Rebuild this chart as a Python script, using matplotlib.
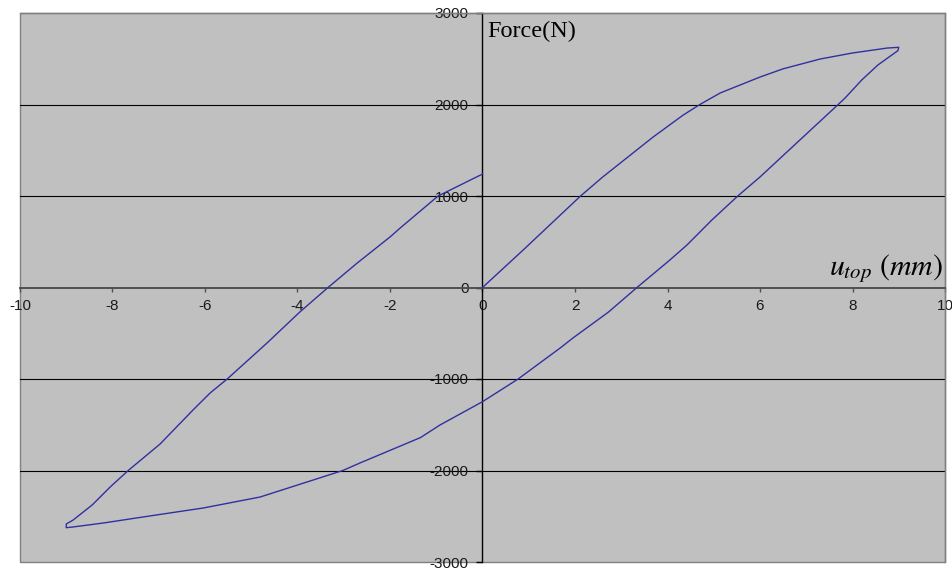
import matplotlib
matplotlib.use("Agg")
import matplotlib.pyplot as plt
from matplotlib.patches import Rectangle
import numpy as np

# Hysteresis loop: top displacement (mm) vs force (N)
loading_x = [0.0, 0.88, 2.12, 2.60, 3.69, 4.34, 4.70, 5.14, 6.00, 6.50, 7.30, 8.00, 8.75, 9.00]
loading_y = [0, 410, 1000, 1208, 1645, 1885, 2000, 2126, 2300, 2390, 2497, 2563, 2617, 2625]

unloading_x = [8.98, 8.55, 8.20, 7.84, 7.69, 6.00, 5.52, 4.96, 4.42, 4.05, 3.34, 2.72, 1.96,
               1.68, 0.77, 0.0, -0.92, -1.34, -2.65, -3.02, -4.81, -6.04, -7.34, -8.20,
               -8.85, -9.00]
unloading_y = [2588, 2432, 2268, 2071, 2000, 1208, 1000, 738, 464, 300, 0, -270, -550,
               -661, -1000, -1248, -1503, -1640, -1918, -2000, -2290, -2410, -2508, -2574,
               -2617, -2625]

reloading_x = [-9.00, -8.85, -8.44, -8.05, -7.66, -6.97, -6.26, -5.89, -5.52, -4.66, -3.95,
               -3.34, -2.71, -2.00, -1.78, -0.96, 0.0]
reloading_y = [-2585, -2541, -2377, -2180, -2000, -1710, -1339, -1153, -1000, -607, -268,
               0, 267, 552, 650, 1000, 1240]

x_ticks = [-10, -8, -6, -4, -2, 0, 2, 4, 6, 8, 10]
y_ticks = [-3000, -2000, -1000, 0, 1000, 2000, 3000]
grid_levels = [-2000, -1000, 1000, 2000]

x_label = r"$u_{top}\ \left(mm\right)$"
y_label = "Force(N)"

plt.rcParams["mathtext.fontset"] = "stix"

W, H = 953, 570
fig = plt.figure(figsize=(W / 100, H / 100), dpi=100, facecolor="white")
ax = fig.add_axes([20 / W, 8 / H, 925 / W, 549 / H])
ax.set_facecolor("#C0C0C0")
ax.set_xlim(-10, 10)
ax.set_ylim(-3000, 3000)

# horizontal gridlines
for g in grid_levels:
    ax.axhline(g, color="black", lw=0.8, zorder=1)

# axes crossing at the origin
ax.spines["left"].set_position(("data", 0))
ax.spines["bottom"].set_position(("data", 0))
ax.spines["left"].set_color("black")
ax.spines["left"].set_linewidth(1.0)
ax.spines["bottom"].set_color("#505050")
ax.spines["bottom"].set_linewidth(1.4)
for s in ("top", "right"):
    ax.spines[s].set_color("#808080")
    ax.spines[s].set_linewidth(1.0)
ax.add_patch(Rectangle((0, 0), 1, 1, transform=ax.transAxes, fill=False,
                       edgecolor="#808080", lw=1.0, zorder=0.5, clip_on=False))

ax.set_xticks(x_ticks)
ax.set_yticks(y_ticks)
ax.set_xticklabels([str(v) for v in x_ticks])
ax.set_yticklabels([str(v) for v in y_ticks])
for lab in ax.get_xticklabels() + ax.get_yticklabels():
    lab.set_fontfamily("Liberation Sans")
    lab.set_fontsize(11)
    lab.set_color("#1a1a1a")
ax.tick_params(axis="x", direction="out", length=3, width=1, color="#505050", pad=5.5)
ax.tick_params(axis="y", direction="out", length=4, width=1, color="black", pad=6)

x = np.concatenate([loading_x, unloading_x, reloading_x])
y = np.concatenate([loading_y, unloading_y, reloading_y])
ax.plot(x, y, color="#3030A0", lw=1.0, zorder=3)

ax.text(0.1, 2740, y_label, family="Liberation Serif", fontsize=17.5,
        ha="left", va="baseline", color="black")
ax.text(9.95, 140, x_label, fontsize=21.5, ha="right", va="baseline", color="black")

fig.savefig("out.png", dpi=100, facecolor="white")
